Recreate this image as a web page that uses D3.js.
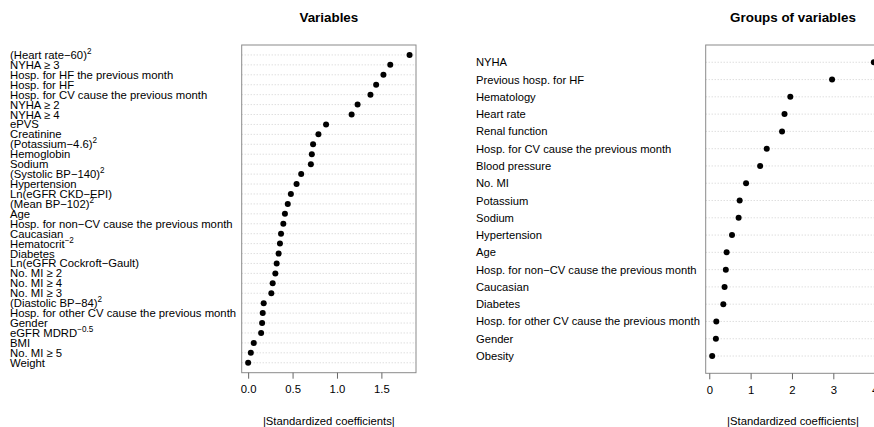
<!DOCTYPE html>
<html>
<head>
<meta charset="utf-8">
<script src="https://cdn.jsdelivr.net/npm/d3@7"></script>
<style>
  html, body { margin: 0; padding: 0; background: #fff; }
  svg { display: block; font-family: "Liberation Sans", Arial, Helvetica, sans-serif; }
</style>
</head>
<body>
<svg id="chart" width="874" height="427"></svg>
<script>
// ---------- data ----------
const variableLabels = [
  "(Heart rate\u221260)^2", "NYHA \u2265 3", "Hosp. for HF the previous month", "Hosp. for HF",
  "Hosp. for CV cause the previous month", "NYHA \u2265 2", "NYHA \u2265 4", "ePVS", "Creatinine",
  "(Potassium\u22124.6)^2", "Hemoglobin", "Sodium", "(Systolic BP\u2212140)^2", "Hypertension",
  "Ln(eGFR CKD\u2212EPI)", "(Mean BP\u2212102)^2", "Age", "Hosp. for non\u2212CV cause the previous month",
  "Caucasian", "Hematocrit^\u22122", "Diabetes", "Ln(eGFR Cockroft\u2212Gault)", "No. MI \u2265 2",
  "No. MI \u2265 4", "No. MI \u2265 3", "(Diastolic BP\u221284)^2", "Hosp. for other CV cause the previous month",
  "Gender", "eGFR MDRD^\u22120.5", "BMI", "No. MI \u2265 5", "Weight"
];
const variableValues = [
  1.817, 1.600, 1.523, 1.441, 1.377, 1.232, 1.165, 0.877, 0.791, 0.731, 0.717, 0.706,
  0.597, 0.545, 0.481, 0.446, 0.414, 0.396, 0.370, 0.358, 0.343, 0.321, 0.306, 0.276,
  0.261, 0.175, 0.164, 0.157, 0.146, 0.063, 0.030, 0.000
];
const variableTicks = [0, 0.5, 1.0, 1.5];

const groupLabels = [
  "NYHA", "Previous hosp. for HF", "Hematology", "Heart rate", "Renal function",
  "Hosp. for CV cause the previous month", "Blood pressure", "No. MI", "Potassium", "Sodium",
  "Hypertension", "Age", "Hosp. for non\u2212CV cause the previous month", "Caucasian", "Diabetes",
  "Hosp. for other CV cause the previous month", "Gender", "Obesity"
];
const groupValues = [
  3.98, 2.97, 1.96, 1.82, 1.76, 1.39, 1.23, 0.89, 0.735, 0.71, 0.55, 0.42, 0.40, 0.37, 0.34,
  0.17, 0.16, 0.07
];
const groupTicks = [0, 1, 2, 3, 4];

const titles = ["Variables", "Groups of variables"];
const axisTitle = "|Standardized coefficients|";

// ---------- drawing ----------
const svg = d3.select("#chart");

function drawPanel(cfg) {
  const { labels, values, ticks, tickFmt, title, box, labelX, labelSize } = cfg;
  const g = svg.append("g");
  const lo = d3.min(values), hi = d3.max(values);
  const ext = (hi - lo) * 0.04;
  const x = d3.scaleLinear().domain([lo - ext, hi + ext]).range([box.left, box.right]);
  const y = d3.scalePoint().domain(d3.range(labels.length)).range([box.top, box.bottom]).padding(1);

  // gridlines
  g.selectAll("line.grid").data(labels).enter().append("line")
    .attr("class", "grid")
    .attr("x1", box.left).attr("x2", box.right)
    .attr("y1", (d, i) => y(i)).attr("y2", (d, i) => y(i))
    .attr("stroke", "#c4c4c4").attr("stroke-width", 0.8)
    .attr("stroke-dasharray", "1,2");

  // labels
  const lab = g.selectAll("text.lab").data(labels).enter().append("text")
    .attr("class", "lab")
    .attr("x", labelX).attr("y", (d, i) => y(i) + 4)
    .attr("font-size", labelSize).attr("fill", "#000");
  lab.each(function(d) {
    const parts = d.split("^");
    const t = d3.select(this);
    t.append("tspan").text(parts[0]);
    if (parts.length > 1) {
      t.append("tspan").attr("font-size", labelSize * 0.72).attr("dy", -5).text(parts[1]);
    }
  });

  // dots
  g.selectAll("circle").data(values).enter().append("circle")
    .attr("cx", d => x(d)).attr("cy", (d, i) => y(i)).attr("r", 3)
    .attr("fill", "#000");

  // box
  g.append("rect")
    .attr("x", box.left).attr("y", box.top)
    .attr("width", box.right - box.left).attr("height", box.bottom - box.top)
    .attr("fill", "none").attr("stroke", "#8a8a8a").attr("stroke-width", 1);

  // axis
  const axis = d3.axisBottom(x).tickValues(ticks).tickFormat(tickFmt).tickSize(6).tickPadding(4);
  const ag = g.append("g").attr("transform", `translate(0,${box.bottom})`).call(axis);
  ag.select(".domain").remove();
  ag.selectAll(".tick line").attr("stroke", "#666");
  ag.selectAll(".tick text").attr("font-size", 11.3).attr("fill", "#000")
    .attr("font-family", "Liberation Sans, Arial, sans-serif").attr("dy", "0.95em");

  const cx = (box.left + box.right) / 2;
  g.append("text").attr("x", cx).attr("y", 22).attr("text-anchor", "middle")
    .attr("font-weight", "bold").attr("font-size", 13.4).text(title);
  g.append("text").attr("x", cx).attr("y", 425).attr("text-anchor", "middle")
    .attr("font-size", 11.3).text(axisTitle);
}

drawPanel({
  labels: variableLabels, values: variableValues, ticks: variableTicks,
  tickFmt: d3.format(".1f"), title: titles[0],
  box: { left: 241.7, right: 416, top: 45, bottom: 372.7 },
  labelX: 10, labelSize: 11.3
});

drawPanel({
  labels: groupLabels, values: groupValues, ticks: groupTicks,
  tickFmt: d3.format("d"), title: titles[1],
  box: { left: 705.7, right: 880.3, top: 45, bottom: 373.3 },
  labelX: 476, labelSize: 11.2
});
</script>
</body>
</html>
